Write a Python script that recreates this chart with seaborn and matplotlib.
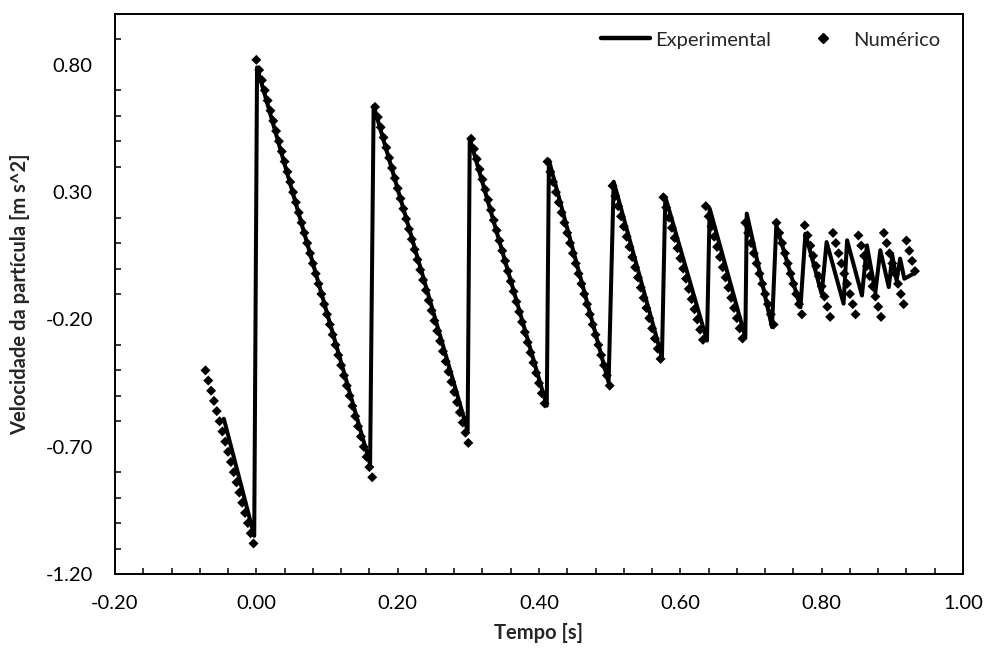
import numpy as np
import pandas as pd
import seaborn as sns
import matplotlib.pyplot as plt
from matplotlib.lines import Line2D
from matplotlib.ticker import FormatStrFormatter

# ---------------- data ----------------
exp_t = [-0.046, -0.003, 0.001, 0.161, 0.166, 0.299, 0.302, 0.411, 0.414,
         0.4985, 0.5057, 0.574, 0.5787, 0.6377, 0.6415, 0.692, 0.694,
         0.7297, 0.7358, 0.770, 0.777, 0.800, 0.807, 0.831, 0.836, 0.857,
         0.864, 0.876, 0.883, 0.895, 0.900, 0.906, 0.911, 0.917, 0.930]
exp_v = [-0.59, -1.05, 0.79, -0.768, 0.639, -0.637, 0.511, -0.539, 0.426,
         -0.447, 0.341, -0.348, 0.282, -0.283, 0.236, -0.27, 0.216,
         -0.23, 0.17, -0.152, 0.137, -0.10, 0.104, -0.138, 0.111, -0.106,
         0.091, -0.093, 0.072, -0.073, 0.052, -0.047, 0.039, -0.04, -0.02]

num_t = [
    -0.072, -0.068, -0.064, -0.060, -0.056, -0.052, -0.048, -0.044, -0.040,
    -0.036, -0.032, -0.028, -0.024, -0.020, -0.016, -0.012, -0.008, -0.004,
    0.000, 0.004, 0.008, 0.012, 0.016, 0.020, 0.024, 0.028, 0.032, 0.036,
    0.040, 0.044, 0.048, 0.052, 0.056, 0.060, 0.064, 0.068, 0.072, 0.076,
    0.080, 0.084, 0.088, 0.092, 0.096, 0.100, 0.104, 0.108, 0.112, 0.116,
    0.120, 0.124, 0.128, 0.132, 0.136, 0.140, 0.144, 0.148, 0.152, 0.156,
    0.160, 0.164,
    0.168, 0.172, 0.176, 0.180, 0.184, 0.188, 0.192, 0.196, 0.200, 0.204,
    0.208, 0.212, 0.216, 0.220, 0.224, 0.228, 0.232, 0.236, 0.240, 0.244,
    0.248, 0.252, 0.256, 0.260, 0.264, 0.268, 0.272, 0.276, 0.280, 0.284,
    0.288, 0.292, 0.296, 0.300,
    0.304, 0.308, 0.312, 0.316, 0.320, 0.324, 0.328, 0.332, 0.336, 0.340,
    0.344, 0.348, 0.352, 0.356, 0.360, 0.364, 0.368, 0.372, 0.376, 0.380,
    0.384, 0.388, 0.392, 0.396, 0.400, 0.404, 0.408,
    0.412, 0.416, 0.420, 0.424, 0.428, 0.432, 0.436, 0.440, 0.444, 0.448,
    0.452, 0.456, 0.460, 0.464, 0.468, 0.472, 0.476, 0.480, 0.484, 0.488,
    0.492, 0.496, 0.500,
    0.504, 0.508, 0.512, 0.516, 0.520, 0.524, 0.528, 0.532, 0.536, 0.540,
    0.544, 0.548, 0.552, 0.556, 0.560, 0.564, 0.568, 0.572,
    0.576, 0.580, 0.584, 0.588, 0.592, 0.596, 0.600, 0.604, 0.608, 0.612,
    0.616, 0.620, 0.624, 0.628, 0.632,
    0.636, 0.640, 0.644, 0.648, 0.652, 0.656, 0.660, 0.664, 0.668, 0.672,
    0.676, 0.680, 0.684, 0.688,
    0.692, 0.696, 0.700, 0.704, 0.708, 0.712, 0.716, 0.720, 0.724, 0.728,
    0.732,
    0.736, 0.740, 0.744, 0.748, 0.752, 0.756, 0.760, 0.764, 0.768, 0.772,
    0.776, 0.780, 0.784, 0.788, 0.792, 0.796, 0.800, 0.804, 0.808, 0.812,
    0.816, 0.820, 0.824, 0.828, 0.832, 0.836, 0.840, 0.844, 0.848,
    0.852, 0.856, 0.860, 0.864, 0.868, 0.872, 0.876, 0.880, 0.884,
    0.888, 0.892, 0.896, 0.900, 0.904, 0.908, 0.912, 0.916,
    0.920, 0.924, 0.928, 0.932,
]
num_v = [
    -0.40, -0.44, -0.48, -0.52, -0.56, -0.60, -0.64, -0.68, -0.72,
    -0.76, -0.80, -0.84, -0.88, -0.92, -0.96, -1.00, -1.04, -1.08,
    0.82, 0.78, 0.74, 0.70, 0.66, 0.62, 0.58, 0.54, 0.50, 0.46,
    0.42, 0.38, 0.34, 0.30, 0.26, 0.22, 0.18, 0.14, 0.10, 0.06,
    0.02, -0.02, -0.06, -0.10, -0.14, -0.18, -0.22, -0.26, -0.30, -0.34,
    -0.38, -0.42, -0.46, -0.50, -0.54, -0.58, -0.62, -0.66, -0.70, -0.74,
    -0.78, -0.82,
    0.635, 0.595, 0.555, 0.515, 0.475, 0.435, 0.395, 0.355, 0.315, 0.275,
    0.235, 0.195, 0.155, 0.115, 0.075, 0.035, -0.005, -0.045, -0.085, -0.125,
    -0.165, -0.205, -0.245, -0.285, -0.325, -0.365, -0.405, -0.445, -0.485, -0.525,
    -0.565, -0.605, -0.645, -0.685,
    0.51, 0.47, 0.43, 0.39, 0.35, 0.31, 0.27, 0.23, 0.19, 0.15,
    0.11, 0.07, 0.03, -0.01, -0.05, -0.09, -0.13, -0.17, -0.21, -0.25,
    -0.29, -0.33, -0.37, -0.41, -0.45, -0.49, -0.53,
    0.42, 0.38, 0.34, 0.30, 0.26, 0.22, 0.18, 0.14, 0.10, 0.06,
    0.02, -0.02, -0.06, -0.10, -0.14, -0.18, -0.22, -0.26, -0.30, -0.34,
    -0.38, -0.42, -0.46,
    0.325, 0.285, 0.245, 0.205, 0.165, 0.125, 0.085, 0.045, 0.005, -0.035,
    -0.075, -0.115, -0.155, -0.195, -0.235, -0.275, -0.315, -0.355,
    0.28, 0.24, 0.20, 0.16, 0.12, 0.08, 0.04, 0.00, -0.04, -0.08,
    -0.12, -0.16, -0.20, -0.24, -0.28,
    0.245, 0.205, 0.165, 0.125, 0.085, 0.045, 0.005, -0.035, -0.075, -0.115,
    -0.155, -0.195, -0.235, -0.275,
    0.18, 0.14, 0.10, 0.06, 0.02, -0.02, -0.06, -0.10, -0.14, -0.18,
    -0.22,
    0.18, 0.14, 0.10, 0.06, 0.02, -0.02, -0.06, -0.10, -0.14, -0.18,
    0.17, 0.13, 0.09, 0.05, 0.01, -0.03, -0.07, -0.11, -0.15, -0.19,
    0.14, 0.10, 0.06, 0.02, -0.02, -0.06, -0.10, -0.14, -0.18,
    0.13, 0.09, 0.05, 0.01, -0.03, -0.07, -0.11, -0.15, -0.19,
    0.14, 0.10, 0.06, 0.02, -0.02, -0.06, -0.10, -0.14,
    0.11, 0.07, 0.03, -0.01,
]

x_major = [-0.20, 0.00, 0.20, 0.40, 0.60, 0.80, 1.00]
y_major = [-1.20, -0.70, -0.20, 0.30, 0.80]
x_minor = [-0.20, -0.16, -0.12, -0.08, -0.04, 0.00, 0.04, 0.08, 0.12, 0.16,
           0.20, 0.24, 0.28, 0.32, 0.36, 0.40, 0.44, 0.48, 0.52, 0.56,
           0.60, 0.64, 0.68, 0.72, 0.76, 0.80, 0.84, 0.88, 0.92, 0.96, 1.00]
y_minor = [-1.1, -1.0, -0.9, -0.8, -0.6, -0.5, -0.4, -0.3, -0.1, 0.0,
           0.1, 0.2, 0.4, 0.5, 0.6, 0.7, 0.9]

x_label = "Tempo [s]"
y_label = "Velocidade da partícula [m s^2]"
series_names = ["Experimental", "Numérico"]

# ---------------- figure ----------------
sns.set_theme(style="white")
plt.rcParams['font.family'] = ['Lato', 'DejaVu Sans']
FS = 14.5

W, H = 987, 655
fig = plt.figure(figsize=(W / 100, H / 100), dpi=100)
L, R, T, B = 115, 963, 14, 574
ax = fig.add_axes([L / W, 1 - B / H, (R - L) / W, (B - T) / H])

exp_df = pd.DataFrame({"t": exp_t, "v": exp_v})
num_df = pd.DataFrame({"t": num_t, "v": num_v})

sns.scatterplot(data=num_df, x="t", y="v", marker="D", s=26, color="black",
                edgecolor="none", linewidth=0, ax=ax, zorder=2)
sns.lineplot(data=exp_df, x="t", y="v", sort=False, estimator=None,
             color="black", linewidth=2.9, ax=ax, zorder=3)

ax.set_xlim(-0.2, 1.0)
ax.set_ylim(-1.2, 1.0)
ax.set_xticks(x_major)
ax.set_yticks(y_major)
ax.set_xticks(x_minor, minor=True)
ax.set_yticks(y_minor, minor=True)
ax.xaxis.remove_overlapping_locs = False
ax.xaxis.set_major_formatter(FormatStrFormatter("%.2f"))
ax.yaxis.set_major_formatter(FormatStrFormatter("%.2f"))

for s in ax.spines.values():
    s.set_color("black")
    s.set_linewidth(1.4)

ax.tick_params(axis="x", which="major", direction="out", length=6, width=1.1,
               color="black", labelsize=FS, labelcolor="black", pad=9)
ax.tick_params(axis="y", which="major", direction="out", length=6, width=1.1,
               color="black", labelsize=FS, labelcolor="black", pad=10)
ax.tick_params(axis="both", which="minor", direction="in", length=4, width=1.1,
               color="black")
ax.tick_params(top=False, right=False, which="both")
ax.tick_params(axis="x", which="minor", bottom=True)
ax.tick_params(axis="y", which="minor", left=True)

ax.set_xlabel("")
ax.set_ylabel("")
fig.text(539 / W, 1 - 633 / H, x_label, ha="center", va="center",
         fontsize=FS, fontweight="bold")
fig.text(20.5 / W, 1 - 294 / H, y_label, ha="center", va="center",
         rotation=90, fontsize=FS, fontweight="bold")

handles = [
    Line2D([], [], color="black", linewidth=3.2),
    Line2D([], [], color="black", linestyle="none", marker="D", markersize=5.2),
]
ax.legend(handles, series_names, loc="center right",
          bbox_to_anchor=(940 / W, 1 - 40 / H), bbox_transform=fig.transFigure,
          ncol=2, frameon=False, fontsize=FS, handlelength=2.45,
          handletextpad=0.25, columnspacing=1.35, borderpad=0, borderaxespad=0)

fig.savefig("out.png", dpi=100, facecolor="white")
